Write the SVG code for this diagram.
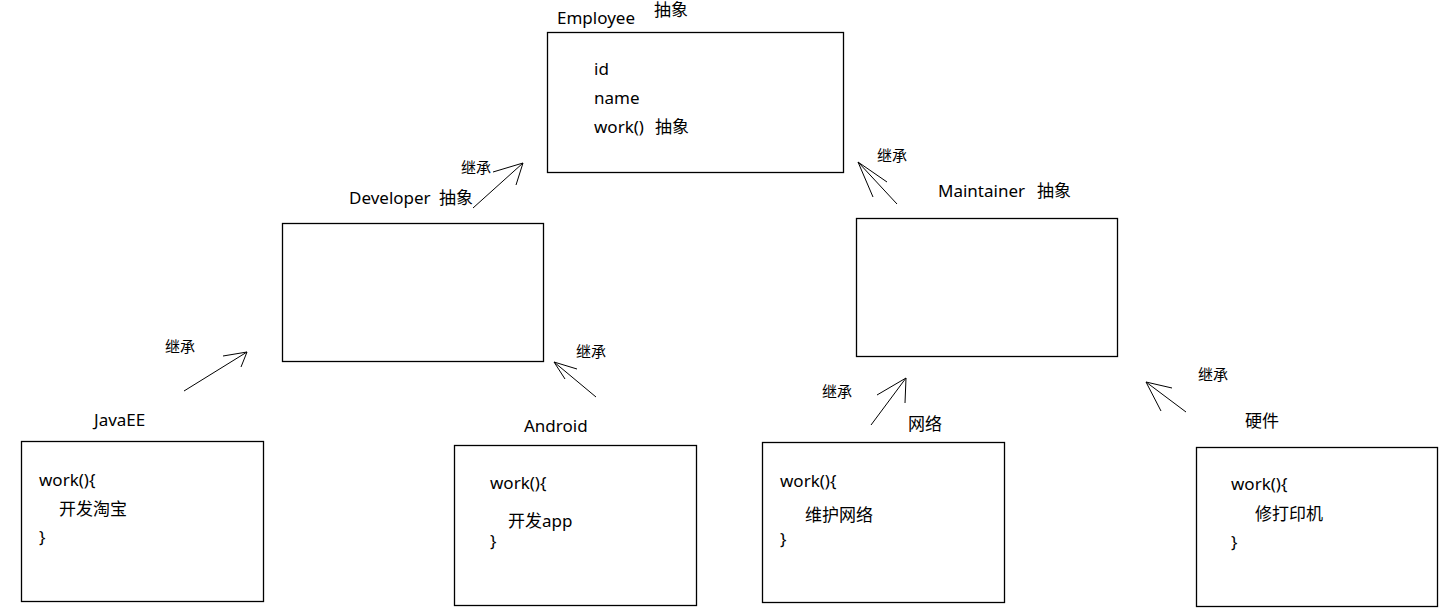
<svg xmlns="http://www.w3.org/2000/svg" width="1446" height="615" viewBox="0 0 1446 615">
<style>
.box{fill:#fff;stroke:#000;stroke-width:1.3}
text{font-family:"Noto Sans","Noto Sans CJK SC",sans-serif;font-size:17px;fill:#000}
.lb{font-size:15px}
.ar{stroke:#000;stroke-width:1;fill:none}
</style>
<rect width="1446" height="615" fill="#fff"/>
<g id="employee">
<rect class="box" x="547.5" y="32.5" width="296" height="140"/>
<text x="557" y="24">Employee</text>
<text x="654" y="16">抽象</text>
<text x="594" y="75">id</text>
<text x="594" y="104">name</text>
<text x="594" y="133">work()</text>
<text x="655" y="133">抽象</text>
</g>
<g id="developer">
<rect class="box" x="282.5" y="223.5" width="261" height="138"/>
<text x="349" y="204">Developer</text>
<text x="439" y="204">抽象</text>
</g>
<g id="maintainer">
<rect class="box" x="856.5" y="218.5" width="261" height="138"/>
<text x="938" y="197">Maintainer</text>
<text x="1037" y="197">抽象</text>
</g>
<g id="javaee">
<rect class="box" x="21.5" y="441.5" width="242" height="160"/>
<text x="94" y="426">JavaEE</text>
<text x="39" y="486">work(){</text>
<text x="59" y="515">开发淘宝</text>
<text x="39" y="543">}</text>
</g>
<g id="android">
<rect class="box" x="454.5" y="445.5" width="242" height="160"/>
<text x="524" y="432">Android</text>
<text x="490" y="489">work(){</text>
<text x="508" y="527">开发app</text>
<text x="490" y="547">}</text>
</g>
<g id="network">
<rect class="box" x="762.5" y="442.5" width="242" height="160"/>
<text x="908" y="430">网络</text>
<text x="780" y="487">work(){</text>
<text x="805" y="521">维护网络</text>
<text x="780" y="545">}</text>
</g>
<g id="hardware">
<rect class="box" x="1196.5" y="447.5" width="241" height="159"/>
<text x="1245" y="427">硬件</text>
<text x="1231" y="490">work(){</text>
<text x="1255" y="520">修打印机</text>
<text x="1231" y="548">}</text>
</g>
<g id="connectors">
<path class="ar" d="M473 208L523 163M493 172L523 163L516 185"/>
<text class="lb" x="461" y="173">继承</text>
<path class="ar" d="M897 204L858 162L887 182M858 162L873 197"/>
<text class="lb" x="877" y="161">继承</text>
<path class="ar" d="M184 391L247 352L223 356M247 352L241 367"/>
<text class="lb" x="165" y="352">继承</text>
<path class="ar" d="M596 397L554 362L577 369M554 362L565 379"/>
<text class="lb" x="576" y="357">继承</text>
<path class="ar" d="M871 425L906 378L877 395M906 378L905 403"/>
<text class="lb" x="822" y="397">继承</text>
<path class="ar" d="M1186 412L1146 382L1172 388M1146 382L1161 411"/>
<text class="lb" x="1198" y="380">继承</text>
</g>
</svg>
